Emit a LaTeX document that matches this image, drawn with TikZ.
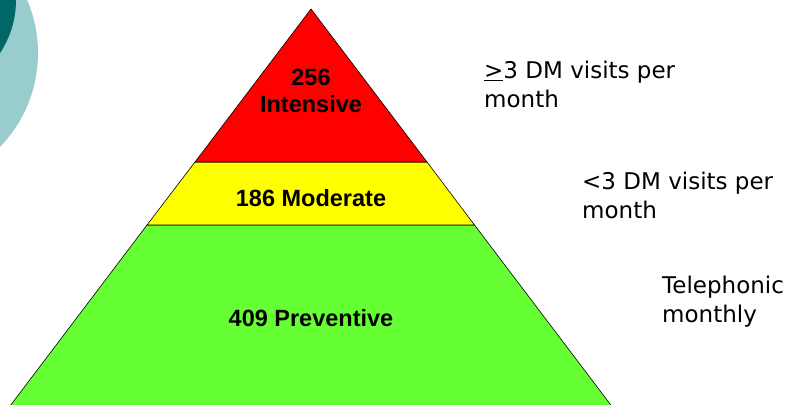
\documentclass[tikz,border=0pt]{standalone}
\usepackage{fontspec}
\setmainfont{Liberation Sans}
\newfontfamily\notefont{DejaVu Sans}
\definecolor{tealpale}{RGB}{153,204,204}
\definecolor{tealdeep}{RGB}{0,102,102}
\definecolor{pyrgreen}{RGB}{102,255,51}
\definecolor{pyryellow}{RGB}{255,255,0}
\definecolor{pyrred}{RGB}{255,0,0}

\begin{document}
\begin{tikzpicture}[x=1pt, y=-1pt,
  tier/.style={font=\bfseries\fontsize{23.5}{27}\selectfont, align=center},
  note/.style={font=\notefont\fontsize{23}{28.5}\selectfont, align=left, anchor=base west, inner sep=0pt}]
\useasboundingbox (0,0) rectangle (791,404);
\begin{scope}
\clip (0,0) rectangle (791,404);
\fill[tealpale] (-97,53) circle[radius=135pt];
\fill[tealdeep] (-80,0) circle[radius=96pt];
% pyramid, bottom up
\draw[line width=0.6pt, fill=pyrgreen] (147,225) -- (474.5,225) -- (614.6,410) -- (7,410) -- cycle;
\draw[line width=0.6pt, fill=pyryellow] (195,162) -- (427,162) -- (474.5,225) -- (147,225) -- cycle;
\draw[line width=0.6pt, fill=pyrred] (311,9) -- (427,162) -- (195,162) -- cycle;
\end{scope}
\node[tier] (intensive) at (311,91) {256\\Intensive};
\node[tier] (moderate) at (311,198) {186 Moderate};
\node[tier] (preventive) at (311,318) {409 Preventive};
\node[note] (intnote) at (484,107) {\underline{>}3 DM visits per\\month};
\node[note] (modnote) at (582,218) {<3 DM visits per\\month};
\node[note] (prevnote) at (662,322) {Telephonic\\monthly};
\end{tikzpicture}
\end{document}
